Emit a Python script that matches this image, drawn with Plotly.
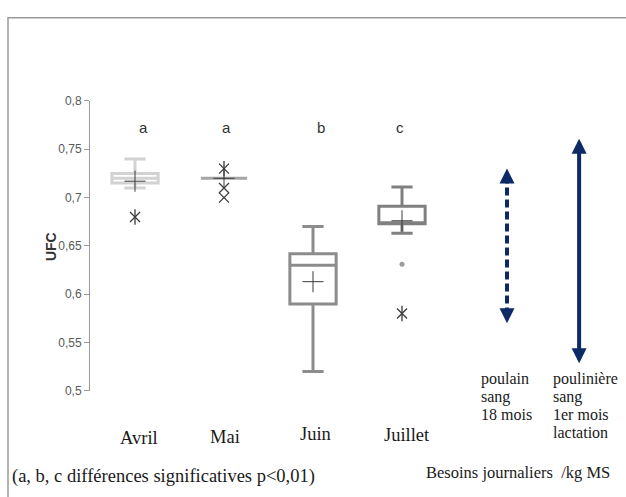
import plotly.graph_objects as go

# ---- data ----
months = ["Avril", "Mai", "Juin", "Juillet"]
q1 = [0.715, 0.720, 0.590, 0.673]
median = [0.720, 0.720, 0.630, 0.673]
q3 = [0.725, 0.720, 0.642, 0.691]
lowerfence = [0.710, 0.720, 0.520, 0.663]
upperfence = [0.740, 0.720, 0.670, 0.711]
means = [0.717, 0.720, 0.613, 0.676]
letters = ["a", "a", "b", "c"]

# outliers: (month index, value, kind)
outlier_month = [1, 2, 2, 2, 4, 4]
outlier_value = [0.680, 0.730, 0.710, 0.700, 0.631, 0.580]
outlier_kind = ["star", "star", "x", "x", "dot", "star"]

need_labels = [["poulain", "sang", "18 mois"], ["poulinière", "sang", "1er mois", "lactation"]]
need_low = [0.570, 0.527]
need_high = [0.730, 0.761]

yticks = [0.5, 0.55, 0.6, 0.65, 0.7, 0.75, 0.8]
yticklabels = ["0,5", "0,55", "0,6", "0,65", "0,7", "0,75", "0,8"]

# ---- styling ----
W, H = 626, 497
box_colors = ["#d2d2d2", "#a6a6a6", "#8c8c8c", "#808080"]
mark_color = "#3a3a3a"
navy = "#0d2a66"
serif = "Liberation Serif, Times New Roman, serif"
sans = "Liberation Sans, Arial, sans-serif"
xpos = [1, 2, 3, 4]
need_x = [5.18, 5.99]

fig = go.Figure()

for i, m in enumerate(months):
    fig.add_trace(go.Box(
        x=[xpos[i]], q1=[q1[i]], median=[median[i]], q3=[q3[i]],
        lowerfence=[lowerfence[i]], upperfence=[upperfence[i]],
        boxpoints=False, width=0.52, whiskerwidth=0.46,
        line=dict(color=box_colors[i], width=3), fillcolor="rgba(255,255,255,0)",
        name=m, showlegend=False, hoverinfo="skip"))

# means
fig.add_trace(go.Scatter(
    x=xpos, y=means, mode="markers",
    marker=dict(symbol="cross-thin-open", size=15, color=mark_color,
                line=dict(color=mark_color, width=1)),
    showlegend=False, hoverinfo="skip"))

# outliers
for kind in ["star", "x", "dot"]:
    xs = [xpos[outlier_month[k] - 1] for k in range(len(outlier_value)) if outlier_kind[k] == kind]
    ys = [outlier_value[k] for k in range(len(outlier_value)) if outlier_kind[k] == kind]
    if kind == "dot":
        fig.add_trace(go.Scatter(x=xs, y=ys, mode="markers",
                                 marker=dict(symbol="circle", size=5, color="#9a9a9a"),
                                 showlegend=False, hoverinfo="skip"))
    else:
        fig.add_trace(go.Scatter(x=xs, y=ys, mode="markers",
                                 marker=dict(symbol="x-thin-open", size=10, color=mark_color,
                                             line=dict(color=mark_color, width=1.3)),
                                 showlegend=False, hoverinfo="skip"))
        if kind == "star":
            fig.add_trace(go.Scatter(x=xs, y=ys, mode="markers",
                                     marker=dict(symbol="line-ns-open", size=11, color=mark_color,
                                                 line=dict(color=mark_color, width=1.3)),
                                     showlegend=False, hoverinfo="skip"))

annotations = []

# dashed requirement arrow (poulain)
fig.add_trace(go.Scatter(
    x=[need_x[0], need_x[0]], y=[need_low[0] + 0.008, need_high[0] - 0.008], mode="lines",
    line=dict(color=navy, width=4, dash="8px,4px"), showlegend=False, hoverinfo="skip"))
for tip, tail in [(need_high[0], need_high[0] - 0.012), (need_low[0], need_low[0] + 0.012)]:
    annotations.append(dict(x=need_x[0], y=tip, ax=need_x[0], ay=tail,
                            xref="x", yref="y", axref="x", ayref="y", text="", showarrow=True,
                            arrowhead=2, arrowsize=0.75, arrowwidth=4, arrowcolor=navy, standoff=0))
# solid requirement arrow (poulinière)
annotations.append(dict(x=need_x[1], y=need_high[1], ax=need_x[1], ay=need_low[1],
                        xref="x", yref="y", axref="x", ayref="y", text="", showarrow=True,
                        arrowhead=2, arrowsize=0.75, arrowwidth=4, arrowcolor=navy,
                        arrowside="end+start", standoff=0, startstandoff=0, startarrowhead=2,
                        startarrowsize=0.75))

# significance letters
letter_shift = [8, 2, 8, -2]
for i, l in enumerate(letters):
    annotations.append(dict(x=xpos[i], y=0.773, xref="x", yref="y", text=l, showarrow=False,
                            xshift=letter_shift[i], font=dict(family=sans, size=15, color="#333333")))

# month labels
month_shift = [4, 1, 2, 5]
month_y = [443, 442, 439, 440]
for i, m in enumerate(months):
    annotations.append(dict(x=xpos[i], y=(H - month_y[i]) / H, xref="x", yref="paper", text=m,
                            showarrow=False, xshift=month_shift[i], yanchor="middle",
                            font=dict(family=serif, size=18.5, color="#1a1a1a")))

# requirement labels
need_text_x = [479, 551]
line_y = [383, 401, 419, 438]
for i, lines in enumerate(need_labels):
    for j, t in enumerate(lines):
        annotations.append(dict(x=need_text_x[i] / W, y=(H - line_y[j]) / H, xref="paper",
                                yref="paper", text=t, showarrow=False, xanchor="left",
                                yanchor="middle",
                                font=dict(family=serif, size=16, color="#1a1a1a")))

annotations.append(dict(x=10 / W, y=(H - 483) / H, xref="paper", yref="paper",
                        text="(a, b, c différences significatives p<0,01)", showarrow=False,
                        xanchor="left", yanchor="middle",
                        font=dict(family=serif, size=18.5, color="#1a1a1a")))
annotations.append(dict(x=612 / W, y=(H - 479) / H, xref="paper", yref="paper",
                        text="Besoins journaliers  /kg MS", showarrow=False,
                        xanchor="right", yanchor="middle",
                        font=dict(family=serif, size=16.5, color="#1a1a1a")))
annotations.append(dict(x=41 / W, y=(H - 247) / H, xref="paper", yref="paper",
                        text="<b>UFC</b>", showarrow=False, textangle=-90,
                        font=dict(family=sans, size=14, color="#333333")))

k = 89.0
x0 = 1 - (135 - 90) / k
x1 = x0 + (626 - 90) / k

fig.update_layout(
    width=W, height=H, margin=dict(l=0, r=0, t=0, b=0),
    paper_bgcolor="white", plot_bgcolor="white",
    xaxis=dict(range=[x0, x1], domain=[90 / W, 1], visible=False),
    yaxis=dict(range=[0.5, 0.8], domain=[(H - 395) / H, (H - 96.7) / H],
               tickvals=yticks, ticktext=yticklabels, showgrid=False, zeroline=False,
               showline=True, linecolor="#9a9a9a", linewidth=1,
               ticks="outside", ticklen=5, tickcolor="#9a9a9a",
               tickfont=dict(family=sans, size=12, color="#595959")),
    annotations=annotations,
    shapes=[dict(type="rect", xref="paper", yref="paper", x0=8 / W, x1=1.02,
                 y0=-0.02, y1=(H - 11) / H, line=dict(color="#9a9a9a", width=1.5))],
)

fig.write_html("out.html")
